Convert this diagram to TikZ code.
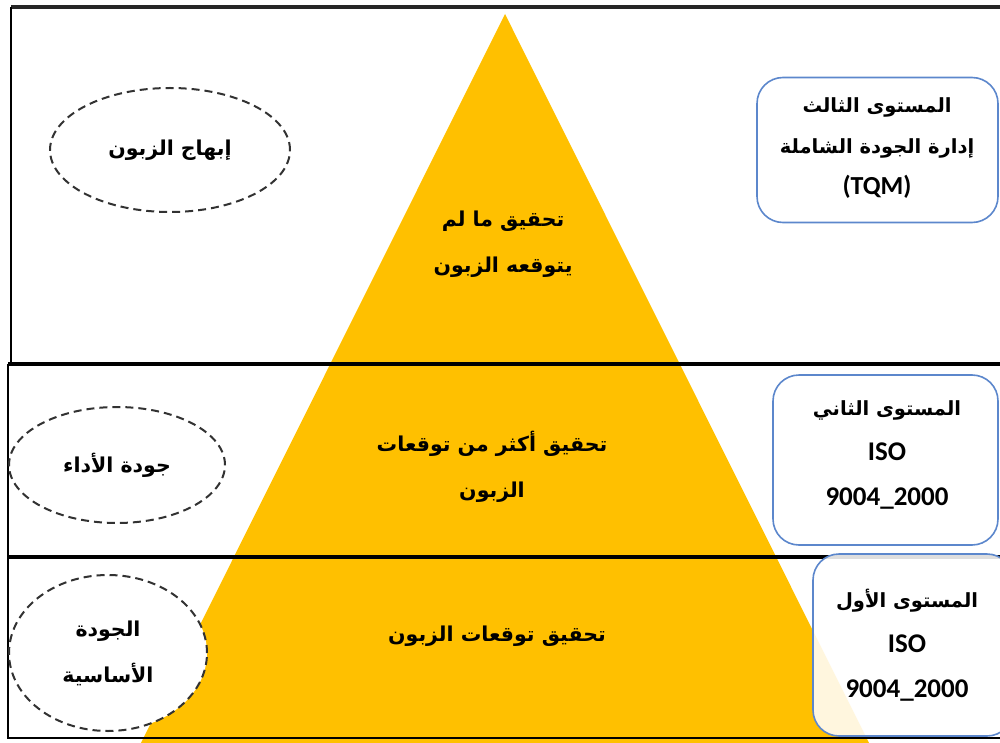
\documentclass[tikz,border=0pt]{standalone}
\usepackage{fontspec}
\setmainfont{DejaVu Sans}
\newfontfamily\ar[Script=Arabic]{DejaVu Sans}
\newfontfamily\lat{Carlito}
\TeXXeTstate=1
\usetikzlibrary{shapes.geometric}
\definecolor{pyr}{RGB}{255,192,0}
\definecolor{boxblue}{RGB}{92,135,204}
\definecolor{dashgray}{RGB}{50,50,50}
\tikzset{
  frameline/.style={line width=3.4pt, black},
  dashell/.style={ellipse, draw=dashgray, line width=2pt, dash pattern=on 8pt off 5pt, fill=white, inner sep=0pt},
  levelbox/.style={draw=boxblue, line width=1.6pt, rounded corners=26pt, fill=white, align=center, inner sep=0pt},
  artxt/.style={font=\ar\bfseries\fontsize{20.5}{46}\selectfont, align=center, text=black},
}
\newcommand{\AR}[1]{\beginR #1\endR}
\begin{document}
\begin{tikzpicture}[x=1pt,y=-1pt]
\useasboundingbox (0,0) rectangle (1000,743);
% triangle
\fill[pyr] (505,14) -- (876,757) -- (134,757) -- cycle;
% frame
\coordinate (tl) at (11,7);
\coordinate (tr) at (1000,7);
\coordinate (ml) at (11,364);
\coordinate (m1l) at (8,364);
\coordinate (m1r) at (1000,364);
\coordinate (m2l) at (8,557);
\coordinate (m2r) at (1000,557);
\coordinate (bl) at (8,738);
\coordinate (br) at (1000,738);
\draw[line width=3.4pt, black!85] (tl) -- (tr);
\draw[line width=2.2pt] (tl) -- (ml);
\draw[frameline] (m1l) -- (m1r);
\draw[frameline] (m2l) -- (m2r);
\draw[line width=2.2pt] (m1l) -- (bl) -- (br);
% ellipses
\node[dashell, minimum width=240pt, minimum height=124pt] (e3) at (170,150) {};
\node[artxt] at (e3.center) {\AR{إبهاج الزبون}};
\node[dashell, minimum width=216pt, minimum height=116pt] (e2) at (117,465) {};
\node[artxt] at (e2.center) {\AR{جودة الأداء}};
\node[dashell, minimum width=198pt, minimum height=156pt] (e1) at (108,653) {};
\node[artxt] at (e1.center) {\AR{الجودة}\\\AR{الأساسية}};
% pyramid texts
\node[artxt] (p3) at (503,244) {\AR{تحقيق ما لم}\\\AR{يتوقعه الزبون}};
\node[artxt] (p2) at (492,467) {\AR{تحقيق أكثر من توقعات}\\\AR{الزبون}};
\node[artxt] (p1) at (497,636) {\AR{تحقيق توقعات الزبون}};
% level boxes
\node[levelbox, minimum width=241pt, minimum height=145pt] (b3) at (877.5,150) {};
\node[artxt, font=\ar\bfseries\fontsize{19.5}{41}\selectfont] at (877,148) {\AR{المستوى الثالث}\\\AR{إدارة الجودة الشاملة}\\{\lat\bfseries\fontsize{26}{41}\selectfont (TQM)}};
\node[levelbox, minimum width=225pt, minimum height=170pt] (b2) at (885.5,460) {};
\node[artxt, font=\ar\bfseries\fontsize{19.5}{45}\selectfont] at (887,455) {\AR{المستوى الثاني}\\{\lat\bfseries\fontsize{27}{45}\selectfont ISO}\\{\lat\bfseries\fontsize{27}{45}\selectfont 9004\_2000}};
\node[levelbox, fill opacity=0.87, minimum width=200pt, minimum height=182pt] (b1) at (913,645) {};
\node[artxt, font=\ar\bfseries\fontsize{19.5}{45}\selectfont] at (907,645) {\AR{المستوى الأول}\\{\lat\bfseries\fontsize{27}{45}\selectfont ISO}\\{\lat\bfseries\fontsize{27}{45}\selectfont 9004\_2000}};
\end{tikzpicture}
\end{document}
